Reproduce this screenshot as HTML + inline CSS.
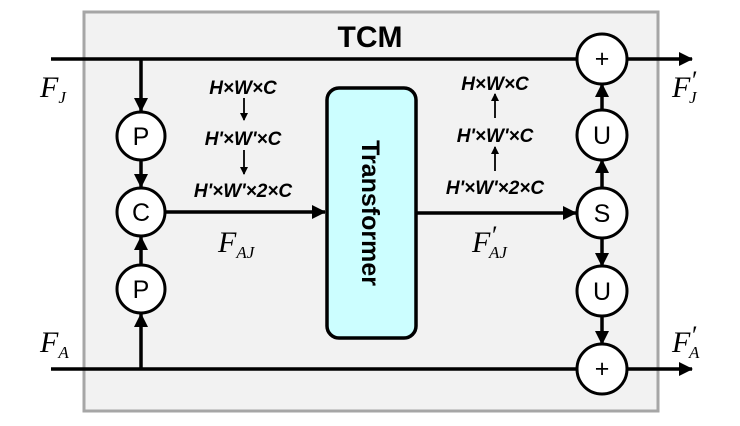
<!DOCTYPE html>
<html><head><style>body{margin:0;background:#fff}svg{display:block}</style></head><body>
<svg width="740" height="426" viewBox="0 0 740 426" xmlns="http://www.w3.org/2000/svg">
<defs>
<marker id="b" markerWidth="14" markerHeight="14" refX="13" refY="7" orient="auto" markerUnits="userSpaceOnUse"><path d="M0,0 L14,7 L0,14 z" fill="#000"/></marker>
<marker id="s" markerWidth="8" markerHeight="8" refX="7" refY="4" orient="auto" markerUnits="userSpaceOnUse"><path d="M0,0 L8,4 L0,8 z" fill="#000"/></marker>
</defs>
<rect x="84" y="12" width="574" height="399" fill="#f2f2f2" stroke="#a6a6a6" stroke-width="3"/>
<text x="370" y="47" text-anchor="middle" font-family="Liberation Sans, sans-serif" font-weight="bold" font-size="30">TCM</text>
<g stroke="#000" stroke-width="3.5" fill="none">
<line x1="51" y1="59" x2="577" y2="59"/>
<line x1="627" y1="59" x2="692" y2="59" marker-end="url(#b)"/>
<line x1="51" y1="369" x2="577" y2="369"/>
<line x1="627" y1="369" x2="692" y2="369" marker-end="url(#b)"/>
<line x1="141" y1="59" x2="141" y2="111" marker-end="url(#b)"/>
<line x1="141" y1="160" x2="141" y2="187" marker-end="url(#b)"/>
<line x1="141" y1="265" x2="141" y2="237" marker-end="url(#b)"/>
<line x1="141" y1="369" x2="141" y2="314" marker-end="url(#b)"/>
<line x1="166" y1="212" x2="325" y2="212" marker-end="url(#b)"/>
<line x1="417" y1="213" x2="576" y2="213" marker-end="url(#b)"/>
<line x1="602" y1="188" x2="602" y2="160" marker-end="url(#b)"/>
<line x1="602" y1="110" x2="602" y2="84" marker-end="url(#b)"/>
<line x1="602" y1="238" x2="602" y2="266" marker-end="url(#b)"/>
<line x1="602" y1="316" x2="602" y2="344" marker-end="url(#b)"/>
</g>
<g stroke="#000" stroke-width="3" fill="#fff">
<circle cx="141" cy="136" r="24"/><circle cx="141" cy="212" r="24"/><circle cx="141" cy="289" r="24"/>
<circle cx="602" cy="59" r="25"/><circle cx="602" cy="135" r="25"/><circle cx="602" cy="213" r="25"/><circle cx="602" cy="291" r="25"/><circle cx="602" cy="369" r="25"/>
</g>
<g font-family="Liberation Sans, sans-serif" font-size="25" text-anchor="middle">
<text x="141" y="145">P</text><text x="141" y="221">C</text><text x="141" y="298">P</text>
<text x="602" y="67">+</text><text x="602" y="144">U</text><text x="602" y="222">S</text><text x="602" y="300">U</text><text x="602" y="377">+</text>
</g>
<rect x="327" y="88" width="89" height="250" rx="12" fill="#ccfeff" stroke="#000" stroke-width="3.5"/>
<text transform="translate(362,213) rotate(90)" text-anchor="middle" font-family="Liberation Sans, sans-serif" font-weight="bold" font-size="25">Transformer</text>
<g font-family="Liberation Sans, sans-serif" font-weight="bold" font-style="italic" font-size="19" text-anchor="middle">
<text x="243" y="94">H×W×C</text><text x="243" y="145">H'×W'×C</text><text x="243" y="197">H'×W'×2×C</text>
<text x="495" y="90">H×W×C</text><text x="495" y="142">H'×W'×C</text><text x="495" y="194">H'×W'×2×C</text>
</g>
<g stroke="#000" stroke-width="1.8">
<line x1="244" y1="98" x2="244" y2="120" marker-end="url(#s)"/>
<line x1="244" y1="150" x2="244" y2="174" marker-end="url(#s)"/>
<line x1="495" y1="118" x2="495" y2="94" marker-end="url(#s)"/>
<line x1="495" y1="171" x2="495" y2="147" marker-end="url(#s)"/>
</g>
<g font-family="Liberation Serif, serif" font-style="italic" font-size="30">
<text x="40" y="97">F<tspan font-size="17" dy="6">J</tspan></text>
<text x="40" y="352">F<tspan font-size="17" dy="6">A</tspan></text>
<text x="672" y="97">F<tspan font-size="26" dy="-8">′</tspan><tspan font-size="17" dy="14" dx="-7">J</tspan></text>
<text x="672" y="352">F<tspan font-size="26" dy="-8">′</tspan><tspan font-size="17" dy="14" dx="-7">A</tspan></text>
<text x="218" y="252">F<tspan font-size="17" dy="6">AJ</tspan></text>
<text x="472" y="252">F<tspan font-size="26" dy="-8">′</tspan><tspan font-size="17" dy="14" dx="-7">AJ</tspan></text>
</g>
</svg>
</body></html>
